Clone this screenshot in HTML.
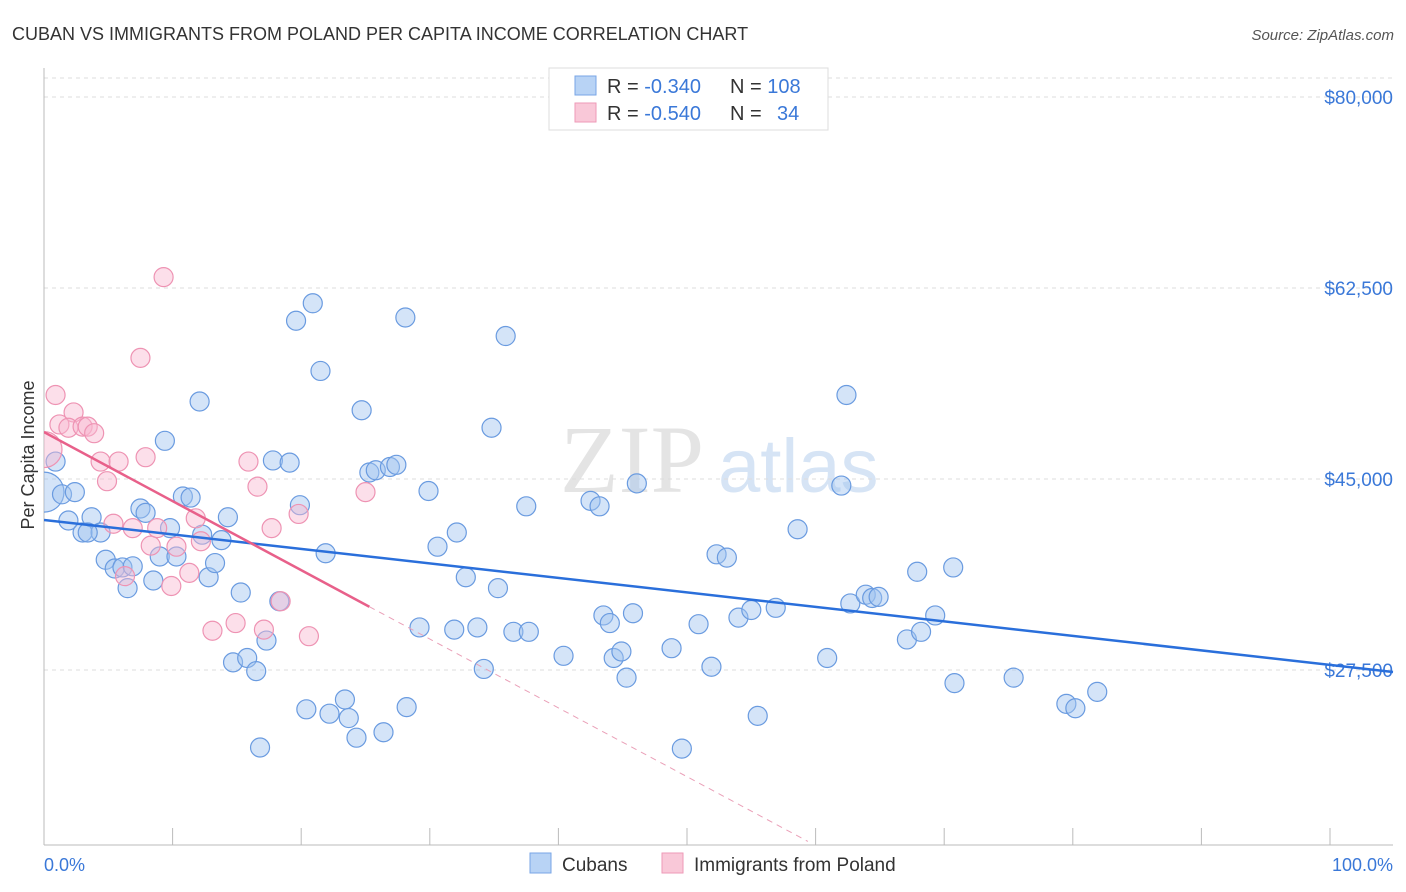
<!DOCTYPE html>
<html><head><meta charset="utf-8"><style>
body{margin:0;background:#fff;font-family:"Liberation Sans",sans-serif;}
svg{display:block}
</style></head><body>
<svg id="chart" width="1406" height="892">
<defs><clipPath id="plotclip"><rect x="44" y="60" width="1360" height="785"/></clipPath></defs>
<text x="12" y="40" font-size="18" fill="#333">CUBAN VS IMMIGRANTS FROM POLAND PER CAPITA INCOME CORRELATION CHART</text>
<text x="1394" y="40" font-size="15" fill="#555" font-style="italic" text-anchor="end">Source: ZipAtlas.com</text>
<text x="560" y="492" font-size="96" fill="#e4e4e4" font-family="Liberation Serif,serif">ZIP</text>
<text x="718" y="492" font-size="76" fill="#d6e4f5">atlas</text>
<text transform="translate(34,455) rotate(-90)" font-size="18" fill="#333" text-anchor="middle">Per Capita Income</text>
<g id="grid"></g><g id="marks" clip-path="url(#plotclip)"></g>
<g>
<rect x="549" y="68" width="279" height="62" fill="#fff" stroke="#ddd"/>
<rect x="575" y="76" width="21" height="19" fill="#b8d3f5" stroke="#78a6e6"/>
<rect x="575" y="103" width="21" height="19" fill="#f9c8d8" stroke="#ee9ab7"/>
<text x="607" y="93" font-size="20" fill="#333">R = <tspan fill="#3a78d8">-0.340</tspan><tspan x="730">N = </tspan><tspan fill="#3a78d8">108</tspan></text>
<text x="607" y="120" font-size="20" fill="#333">R = <tspan fill="#3a78d8">-0.540</tspan><tspan x="730">N = </tspan><tspan fill="#3a78d8" x="777">34</tspan></text>
</g>
<g>
<rect x="530" y="853" width="21" height="20" fill="#b8d3f5" stroke="#78a6e6"/>
<text x="562" y="871" font-size="19" fill="#333">Cubans</text>
<rect x="662" y="853" width="21" height="20" fill="#f9c8d8" stroke="#ee9ab7"/>
<text x="694" y="871" font-size="19" fill="#333">Immigrants from Poland</text>
</g>
<text x="44" y="871" font-size="18" fill="#3a78d8">0.0%</text>
<text x="1393" y="871" font-size="18" fill="#3a78d8" text-anchor="end">100.0%</text>
</svg>
<script>
const yTicks=[80000,62500,45000,27500];
const yTickLabels=["$80,000","$62,500","$45,000","$27,500"];
const xTicks=[0,10,20,30,40,50,60,70,80,90,100];
const cubanX=[0.9,0,1.4,2.4,1.9,3.0,3.7,4.4,3.4,4.8,5.5,6.1,6.5,6.9,7.5,7.9,8.5,9.0,9.4,9.8,10.3,10.8,11.4,12.1,12.3,12.8,13.3,13.8,14.3,14.7,15.3,15.8,16.5,16.8,17.3,17.8,18.3,19.1,19.6,19.9,20.4,20.9,21.5,21.9,22.2,23.4,23.7,24.3,24.7,25.3,25.8,26.4,26.9,27.4,28.1,28.2,29.2,29.9,30.6,31.9,32.1,32.8,33.7,34.2,34.8,35.3,35.9,36.5,37.5,37.7,40.4,42.5,43.2,43.5,44.0,44.3,44.9,45.3,45.8,46.1,48.8,49.6,50.9,51.9,52.3,53.1,54.0,55.0,55.5,56.9,58.6,60.9,62.0,62.4,62.7,63.9,64.4,64.9,67.1,67.9,68.2,69.3,70.7,70.8,75.4,79.5,80.2,81.9];
const cubanY=[46.6,43.8,43.6,43.8,41.2,40.1,41.5,40.1,40.1,37.6,36.8,36.9,35.0,37.0,42.3,41.9,35.7,37.9,48.5,40.5,37.9,43.4,43.3,52.1,39.9,36.0,37.3,39.4,41.5,28.2,34.6,28.6,27.4,20.4,30.2,46.7,33.8,46.5,59.5,42.6,23.9,61.1,54.9,38.2,23.5,24.8,23.1,21.3,51.3,45.6,45.8,21.8,46.1,46.3,59.8,24.1,31.4,43.9,38.8,31.2,40.1,36.0,31.4,27.6,49.7,35.0,58.1,31.0,42.5,31.0,28.8,43.0,42.5,32.5,31.8,28.6,29.2,26.8,32.7,44.6,29.5,20.3,31.7,27.8,38.1,37.8,32.3,33.0,23.3,33.2,40.4,28.6,44.4,52.7,33.6,34.4,34.1,34.2,30.3,36.5,31.0,32.5,36.9,26.3,26.8,24.4,24.0,25.5];
const polandX=[0,0.9,1.2,2.3,1.9,3.0,3.4,3.9,4.4,4.9,5.4,5.8,6.3,6.9,7.5,7.9,8.3,8.8,9.3,9.9,10.3,11.3,11.8,12.2,13.1,14.9,15.9,16.6,17.1,17.7,18.4,19.8,20.6,25.0];
const polandY=[47.7,52.7,50.0,51.1,49.7,49.8,49.8,49.2,46.6,44.8,40.9,46.6,36.1,40.5,56.1,47.0,38.9,40.5,63.5,35.2,38.8,36.4,41.4,39.3,31.1,31.8,46.6,44.3,31.2,40.5,33.8,41.8,30.6,43.8];
const cubanTrend=[[0,41.25],[104.9,27.32]];
const polandTrend=[[0,49.3],[25.3,33.3]];
const polandTrendExt=[[25.3,33.3],[59.4,11.8]];

const NS="http://www.w3.org/2000/svg";
const X=v=>44+v*12.86;
const Y=v=>97+(80000-v)/91.62;
const Yk=v=>Y(v*1000);
function mk(t,a,p){const e=document.createElementNS(NS,t);for(const k in a)e.setAttribute(k,a[k]);p.appendChild(e);return e;}
const g=document.getElementById('grid'),m=document.getElementById('marks');
mk('line',{x1:44,y1:78,x2:1393,y2:78,stroke:'#ddd','stroke-dasharray':'4,4'},g);
yTicks.forEach((v,i)=>{
 const l=mk('line',{x1:44,y1:Y(v),x2:1393,y2:Y(v),stroke:'#ddd','stroke-dasharray':'4,4'},g);
 
 
 const t=mk('text',{x:1393,y:Y(v)+7,'font-size':19,fill:'#3a78d8','text-anchor':'end'},g);
 t.textContent=yTickLabels[i];
 
 
});
mk('line',{x1:44,y1:68,x2:44,y2:845,stroke:'#bbb'},g);
mk('line',{x1:44,y1:845,x2:1393,y2:845,stroke:'#bbb'},g);
xTicks.forEach(v=>{
 const l=mk('line',{x1:X(v),y1:828,x2:X(v),y2:845,stroke:'#bbb'},g);
 
 
});
cubanX.forEach((x,i)=>{
 const big=i===1;
 const c=mk('circle',{cx:X(x),cy:Yk(cubanY[i]),r:big?20:9.5,fill:'rgba(160,195,240,0.45)',stroke:'#6a9be0','stroke-width':1.2},m);
 
 
});
polandX.forEach((x,i)=>{
 const big=i===0;
 const c=mk('circle',{cx:X(x),cy:Yk(polandY[i]),r:big?18:9.5,fill:'rgba(248,185,208,0.45)',stroke:'#ee93b3','stroke-width':1.2},m);
 
 
});
const bt=mk('line',{x1:X(cubanTrend[0][0]),y1:Yk(cubanTrend[0][1]),x2:X(cubanTrend[1][0]),y2:Yk(cubanTrend[1][1]),stroke:'#2a6fdb','stroke-width':2.5},m);


const pt=mk('line',{x1:X(polandTrend[0][0]),y1:Yk(polandTrend[0][1]),x2:X(polandTrend[1][0]),y2:Yk(polandTrend[1][1]),stroke:'#e8608a','stroke-width':2.5},m);


const pe=mk('line',{x1:X(polandTrendExt[0][0]),y1:Yk(polandTrendExt[0][1]),x2:X(polandTrendExt[1][0]),y2:Yk(polandTrendExt[1][1]),stroke:'#eaa0b8','stroke-width':1,'stroke-dasharray':'6,5'},m);


</script>
</body></html>
